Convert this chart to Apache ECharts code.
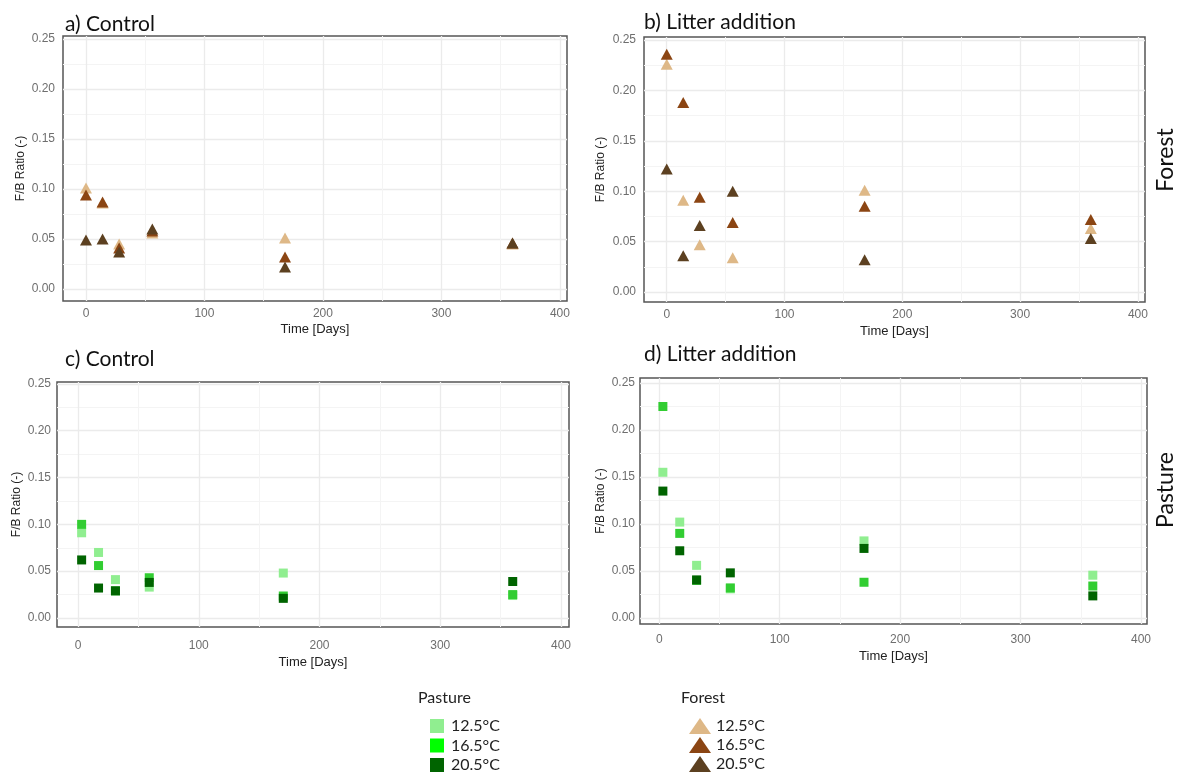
<!DOCTYPE html>
<html>
<head>
<meta charset="utf-8">
<script src="https://cdn.jsdelivr.net/npm/echarts@6/dist/echarts.min.js"></script>
<style>
  html, body { margin: 0; padding: 0; background: #fff; }
  #main { width: 1179px; height: 773px; }
</style>
</head>
<body>
<div id="main"></div>
<script>
// sampling days
var forestDays = [0, 14, 28, 56, 168, 360];
var pastureDays = [3, 17, 31, 59, 170, 360];

var temps = ['12.5°C', '16.5°C', '20.5°C'];

// a) forest control
var forestCtrl125 = [0.101, 0.086, 0.045, 0.056, 0.051, 0.045];
var forestCtrl165 = [0.094, 0.087, 0.041, 0.058, 0.032, 0.046];
var forestCtrl205 = [0.049, 0.050, 0.037, 0.060, 0.022, 0.046];

// b) forest litter addition
var forestLit125 = [0.226, 0.091, 0.047, 0.034, 0.101, 0.063];
var forestLit165 = [0.236, 0.188, 0.094, 0.069, 0.085, 0.072];
var forestLit205 = [0.122, 0.036, 0.066, 0.100, 0.032, 0.053];

// c) pasture control
var pastureCtrl125 = [0.091, 0.070, 0.041, 0.033, 0.048, 0.024];
var pastureCtrl165 = [0.100, 0.056, 0.029, 0.043, 0.0235, 0.025];
var pastureCtrl205 = [0.062, 0.032, 0.029, 0.038, 0.021, 0.039];

// d) pasture litter addition
var pastureLit125 = [0.155, 0.102, 0.056, 0.031, 0.082, 0.0455];
var pastureLit165 = [0.225, 0.090, 0.040, 0.032, 0.038, 0.034];
var pastureLit205 = [0.135, 0.0715, 0.0405, 0.048, 0.074, 0.0235];

var forestColors = ['#DEB887', '#8B4513', '#5C4020'];
var pastureColors = ['#90EE90', '#32CD32', '#006400'];
var pastureLegendColors = ['#90EE90', '#00FF00', '#006400'];

var chartDom = document.getElementById('main');
var myChart = echarts.init(chartDom);
var option;

function pairs(xs, ys) {
    return xs.map(function (x, i) { return [x, ys[i]]; });
}

var panels = [
    { title: 'a) Control', group: 'Forest', days: forestDays, values: [forestCtrl125, forestCtrl165, forestCtrl205],
      grid: { left: 63, top: 36, width: 504, height: 265 }, x: [-19.4, 406], y: [-0.012, 0.253],
      xMargin: 7, xNameGap: 22, yMargin: 8, yNameGap: 36, titlePos: { left: 60, top: 9 } },
    { title: 'b) Litter addition', group: 'Forest', days: forestDays, values: [forestLit125, forestLit165, forestLit205],
      grid: { left: 644, top: 37, width: 501, height: 265 }, x: [-19.3, 406], y: [-0.0099, 0.253],
      xMargin: 7, xNameGap: 23, yMargin: 8, yNameGap: 37, titlePos: { left: 639, top: 7 } },
    { title: 'c) Control', group: 'Pasture', days: pastureDays, values: [pastureCtrl125, pastureCtrl165, pastureCtrl205],
      grid: { left: 57, top: 382, width: 512, height: 245 }, x: [-17.4, 406.6], y: [-0.0096, 0.252],
      xMargin: 13, xNameGap: 29, yMargin: 6, yNameGap: 34, titlePos: { left: 60, top: 344 } },
    { title: 'd) Litter addition', group: 'Pasture', days: pastureDays, values: [pastureLit125, pastureLit165, pastureLit205],
      grid: { left: 640, top: 378, width: 507, height: 246 }, x: [-16, 405], y: [-0.0064, 0.2553],
      xMargin: 10, xNameGap: 26, yMargin: 5, yNameGap: 33, titlePos: { left: 639, top: 339 } }
];

var grids = [], xAxes = [], yAxes = [], series = [], titles = [];

panels.forEach(function (p, k) {
    grids.push(Object.assign({
        show: true,
        borderColor: '#555555',
        borderWidth: 1.5,
        backgroundColor: '#ffffff'
    }, p.grid));

    titles.push({
        text: p.title,
        left: p.titlePos.left,
        top: p.titlePos.top,
        textStyle: { fontFamily: 'Lato', fontSize: 21, fontWeight: 'normal', color: '#111' }
    });

    xAxes.push({
        type: 'value',
        gridIndex: k,
        min: p.x[0],
        max: p.x[1],
        splitNumber: 5,
        name: 'Time [Days]',
        nameLocation: 'middle',
        nameGap: p.xNameGap,
        nameTextStyle: { fontFamily: 'Liberation Sans', fontSize: 13, color: '#222' },
        axisLine: { show: false },
        axisTick: { show: false },
        axisLabel: {
            margin: p.xMargin,
            showMinLabel: false,
            showMaxLabel: false,
            fontFamily: 'Liberation Sans',
            fontSize: 12,
            color: '#6e6e6e'
        },
        splitLine: { show: true, showMinLine: false, showMaxLine: false, lineStyle: { color: '#EBEBEB', width: 1.3 } },
        minorTick: { show: false, splitNumber: 2 },
        minorSplitLine: { show: true, lineStyle: { color: '#F4F4F4', width: 1 } }
    });

    yAxes.push({
        type: 'value',
        gridIndex: k,
        min: p.y[0],
        max: p.y[1],
        splitNumber: 5,
        name: 'F/B Ratio (-)',
        nameLocation: 'middle',
        nameGap: p.yNameGap,
        nameTextStyle: { fontFamily: 'Liberation Sans', fontSize: 12, color: '#222' },
        axisLine: { show: false },
        axisTick: { show: false },
        axisLabel: {
            margin: p.yMargin,
            showMinLabel: false,
            showMaxLabel: false,
            fontFamily: 'Liberation Sans',
            fontSize: 12,
            color: '#6e6e6e',
            formatter: function (v) { return v.toFixed(2); }
        },
        splitLine: { show: true, showMinLine: false, showMaxLine: false, lineStyle: { color: '#EBEBEB', width: 1.3 } },
        minorTick: { show: false, splitNumber: 2 },
        minorSplitLine: { show: true, lineStyle: { color: '#F4F4F4', width: 1 } }
    });

    var isForest = p.group === 'Forest';
    p.values.forEach(function (vals, j) {
        series.push({
            name: p.group + ' ' + temps[j],
            type: 'scatter',
            xAxisIndex: k,
            yAxisIndex: k,
            symbol: isForest ? 'triangle' : 'rect',
            symbolSize: isForest ? [12, 11] : 9,
            itemStyle: {
                color: isForest ? forestColors[j] : pastureColors[j],
                opacity: 1
            },
            emphasis: { disabled: true },
            data: pairs(p.days, vals)
        });
    });
});

titles.push({
    text: 'Pasture', left: 413, top: 685,
    textStyle: { fontFamily: 'Lato', fontSize: 16, fontWeight: 'normal', color: '#222' }
});
titles.push({
    text: 'Forest', left: 676, top: 685,
    textStyle: { fontFamily: 'Lato', fontSize: 16, fontWeight: 'normal', color: '#222' }
});

option = {
    animation: false,
    backgroundColor: '#ffffff',
    title: titles,
    grid: grids,
    xAxis: xAxes,
    yAxis: yAxes,
    legend: [
        {
            orient: 'vertical',
            left: 430,
            top: 718,
            height: 90,
            padding: 0,
            icon: 'rect',
            itemWidth: 14,
            itemHeight: 14,
            itemGap: 3.5,
            selectedMode: false,
            data: temps.map(function (t, j) {
                return { name: 'Pasture ' + t, itemStyle: { color: pastureLegendColors[j] } };
            }),
            formatter: function (n) { return n.replace('Pasture ', ''); },
            textStyle: { fontFamily: 'Lato', fontSize: 16, lineHeight: 16, color: '#222', padding: [0, 0, 0, 2] }
        },
        {
            orient: 'vertical',
            left: 689,
            top: 718,
            height: 90,
            padding: 0,
            icon: 'triangle',
            itemWidth: 22,
            itemHeight: 16,
            itemGap: 3,
            selectedMode: false,
            data: temps.map(function (t, j) {
                return { name: 'Forest ' + t, itemStyle: { color: forestColors[j] } };
            }),
            formatter: function (n) { return n.replace('Forest ', ''); },
            textStyle: { fontFamily: 'Lato', fontSize: 16, lineHeight: 16, color: '#222' }
        }
    ],
    graphic: [
        {
            type: 'text', x: 1166, y: 160, rotation: Math.PI / 2,
            style: { text: 'Forest', font: '23px Lato', fill: '#111', textAlign: 'center', textVerticalAlign: 'middle' }
        },
        {
            type: 'text', x: 1166, y: 490, rotation: Math.PI / 2,
            style: { text: 'Pasture', font: '23px Lato', fill: '#111', textAlign: 'center', textVerticalAlign: 'middle' }
        }
    ],
    series: series
};

option && myChart.setOption(option);
</script>
</body>
</html>
